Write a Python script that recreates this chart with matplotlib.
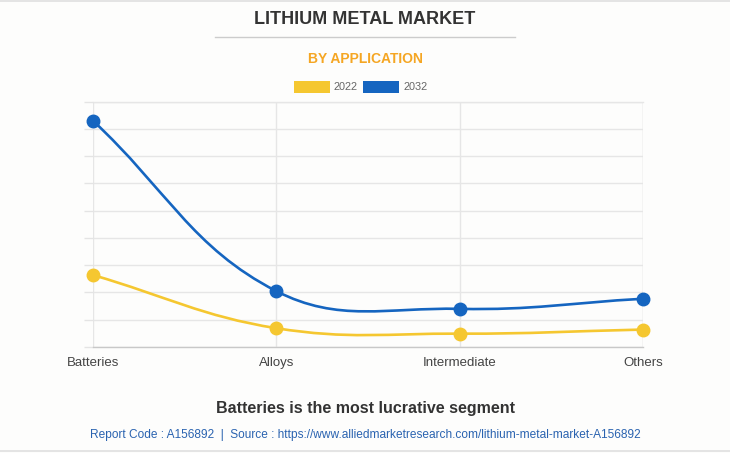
import numpy as np
import matplotlib
matplotlib.use("Agg")
import matplotlib.pyplot as plt
from matplotlib.path import Path
from matplotlib.patches import PathPatch, Rectangle
from matplotlib.lines import Line2D

plt.rcParams['font.family'] = ['Liberation Sans', 'DejaVu Sans']

categories = ["Batteries", "Alloys", "Intermediate", "Others"]
years = ["2022", "2032"]
values_2022 = [2.64, 0.69, 0.49, 0.64]
values_2032 = [8.30, 2.05, 1.40, 1.77]
colors = {"2022": "#F5C730", "2032": "#1565C0"}


def spline_path(ax, xs, ys, tension=0.4):
    # chart.js style bezier through the points, computed in pixel space
    pts = ax.transData.transform(np.column_stack([xs, ys]))
    n = len(pts)
    verts = [pts[0]]
    codes = [Path.MOVETO]
    cps = []
    for i in range(n):
        prev = pts[max(i - 1, 0)]
        cur = pts[i]
        nxt = pts[min(i + 1, n - 1)]
        d01 = np.hypot(*(cur - prev))
        d12 = np.hypot(*(nxt - cur))
        tot = d01 + d12
        s01 = d01 / tot if tot else 0
        s12 = d12 / tot if tot else 0
        cps.append((cur - tension * s01 * (nxt - prev), cur + tension * s12 * (nxt - prev)))
    for i in range(n - 1):
        verts += [cps[i][1], cps[i + 1][0], pts[i + 1]]
        codes += [Path.CURVE4] * 3
    verts = ax.transData.inverted().transform(np.array(verts))
    return Path(verts, codes)


fig = plt.figure(figsize=(7.30, 4.53), dpi=100, facecolor="#fdfdfc")
ax = fig.add_axes([93 / 730, 1 - 347 / 453, 550 / 730, (347 - 101.7) / 453])
ax.set_facecolor("#fdfdfc")
x = np.arange(len(categories))
ax.set_xlim(0, 3)
ax.set_ylim(0, 9)

ax.set_yticks(np.arange(0, 10))
ax.set_yticklabels([])
ax.set_xticks(x)
ax.set_xticklabels(categories, fontsize=9.5, color="#444444")
ax.tick_params(axis="y", length=6.5, color="#e4e4e4", width=1)
ax.tick_params(axis="x", length=0, pad=7)
ax.grid(True, color="#e6e6e6", linewidth=1)
ax.set_axisbelow(True)
for s in ["top", "right", "left"]:
    ax.spines[s].set_visible(False)
ax.spines["bottom"].set_color("#c8c8c8")
ax.spines["bottom"].set_linewidth(1)
ax.axhline(9, color="#e6e6e6", lw=1, zorder=0, clip_on=False)
ax.axvline(3, color="#e6e6e6", lw=1, zorder=0)

for yr, vals in zip(years, [values_2022, values_2032]):
    p = spline_path(ax, x, vals)
    ax.add_patch(PathPatch(p, facecolor="none", edgecolor=colors[yr], lw=1.9, zorder=3))
    ax.plot(x, vals, "o", color=colors[yr], markersize=9, zorder=4, clip_on=False)

# titles
fig.text(0.5, 1 - 20 / 453, "LITHIUM METAL MARKET", ha="center", va="center",
         fontsize=13, fontweight="bold", color="#333333")
fig.add_artist(Line2D([215 / 730, 515 / 730], [1 - 37 / 453] * 2, color="#cccccc", lw=1))
fig.text(0.5, 1 - 59 / 453, "BY APPLICATION", ha="center", va="center",
         fontsize=10, fontweight="bold", color="#F5A623")

# legend
for yr, bx, tx in [("2022", 294, 334), ("2032", 363, 404)]:
    fig.add_artist(Rectangle((bx / 730, 1 - 93 / 453), 36 / 730, 12 / 453,
                             facecolor=colors[yr], edgecolor="none"))
    fig.text(tx / 730, 1 - 87 / 453, yr, ha="left", va="center", fontsize=7.8, color="#666666")

fig.text(0.5, 1 - 408 / 453, "Batteries is the most lucrative segment", ha="center", va="center",
         fontsize=11.5, fontweight="bold", color="#333333")
fig.text(0.5, 1 - 435 / 453,
         "Report Code : A156892  |  Source : https://www.alliedmarketresearch.com/lithium-metal-market-A156892",
         ha="center", va="center", fontsize=8.6, color="#2a63b0")
fig.add_artist(Line2D([0, 1], [1 - 451 / 453] * 2, color="#e0e0e0", lw=1.2))
fig.add_artist(Line2D([0, 1], [1 - 0.5 / 453] * 2, color="#e0e0e0", lw=1.2))

fig.savefig("out.png", dpi=100, facecolor=fig.get_facecolor())
